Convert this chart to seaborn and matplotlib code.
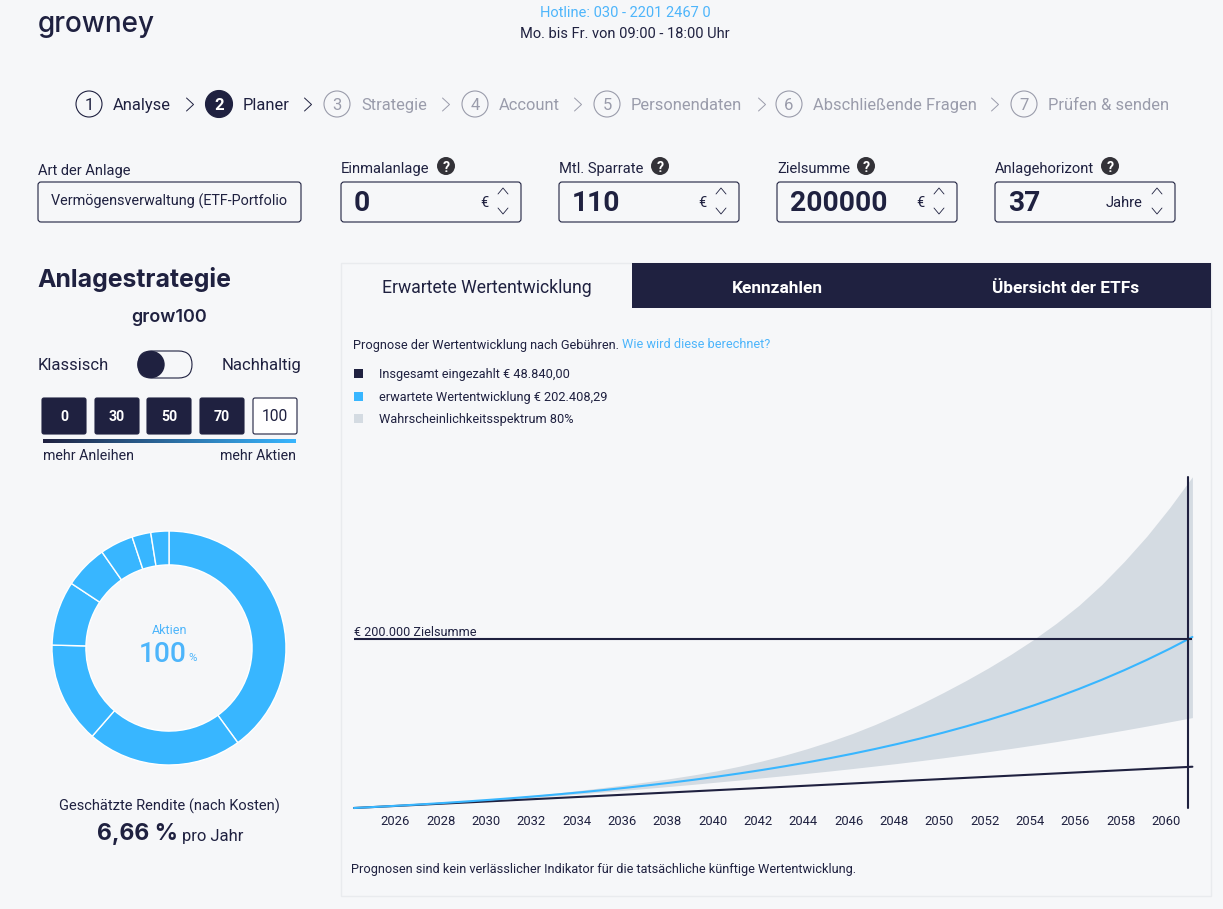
import matplotlib
matplotlib.use("Agg")
import matplotlib.pyplot as plt
import numpy as np
import seaborn as sns
from matplotlib.colors import LinearSegmentedColormap
from matplotlib.patches import Circle, FancyBboxPatch, Rectangle

W, H = 1223, 909
NAVY = "#1f2140"
BLUE = "#38b6ff"
LINK = "#4db5fb"
BAND = "#d4dbe2"
BG = "#f6f7f9"
GRAY = "#9a9cab"
EDGE = "#e9ebee"

# Werte
years = [2024.17, 2025.17, 2026.17, 2027.17, 2028.17, 2029.17, 2030.17, 2031.17,
         2032.17, 2033.17, 2034.17, 2035.17, 2036.17, 2037.17, 2038.17, 2039.17,
         2040.17, 2041.17, 2042.17, 2043.17, 2044.17, 2045.17, 2046.17, 2047.17,
         2048.17, 2049.17, 2050.17, 2051.17, 2052.17, 2053.17, 2054.17, 2055.17,
         2056.17, 2057.17, 2058.17, 2059.17, 2060.17, 2061.17]
expected = [0, 1366, 2821, 4378, 6037, 7805, 9692, 11703, 13847, 16137, 18577, 21180,
            23957, 26918, 30078, 33449, 37041, 40876, 44965, 49325, 53976, 58939,
            64231, 69875, 75895, 82314, 89163, 96469, 104259, 112570, 121434, 130888,
            140972, 151727, 163198, 175433, 188484, 202408]
upper = [0, 1400, 2900, 4500, 6300, 8200, 10300, 12600, 15100, 17900, 21000, 24200,
         27600, 31200, 35000, 39200, 43900, 49400, 55600, 62500, 70200, 78800, 88200,
         98800, 110500, 123000, 136500, 150700, 165800, 182000, 199500, 218700,
         240000, 264500, 292000, 322000, 355500, 392000]
lower = [0, 1300, 2700, 4100, 5600, 7200, 8900, 10700, 12600, 14600, 16700, 18900,
         21100, 23400, 25700, 28100, 30600, 33100, 35700, 38300, 41000, 43800, 46700,
         49700, 52800, 56000, 59400, 63000, 66700, 70500, 74500, 78600, 83000, 87600,
         92200, 97000, 102000, 107000]
deposit_years = [2024.17, 2061.17]
deposits = [0, 48840]
target = 200000
tick_years = [2026, 2028, 2030, 2032, 2034, 2036, 2038, 2040, 2042, 2044, 2046, 2048,
              2050, 2052, 2054, 2056, 2058, 2060]
donut_shares = [40, 21.4, 14, 8.9, 6, 4.6, 2.6, 2.5]

steps = ["Analyse", "Planer", "Strategie", "Account", "Personendaten",
         "Abschließende Fragen", "Prüfen & senden"]
step_x = [89, 219, 337, 475, 607, 789, 1024]
chevron_x = [190, 308, 446, 578, 762, 995]

sns.set_theme(style="white")
plt.rcParams["font.family"] = ["Roboto", "DejaVu Sans"]

fig = plt.figure(figsize=(W / 100, H / 100), dpi=100, facecolor=BG)


def px_axes(x0, y0, x1, y1):
    return fig.add_axes([x0 / W, 1 - y1 / H, (x1 - x0) / W, (y1 - y0) / H])


ui = px_axes(0, 0, W, H)
ui.set_xlim(0, W)
ui.set_ylim(H, 0)
ui.axis("off")


def txt(x, y, s, size, color=NAVY, ha="left", weight="normal", family=None, **kw):
    # size in Pixel, y ist die Grundlinie
    return ui.text(x, y, s, fontsize=size * 0.75, color=color, ha=ha, va="baseline",
                   fontweight=weight, family=family or ["Roboto", "DejaVu Sans"], **kw)


def box(x0, y0, x1, y1, fc="none", ec=NAVY, lw=0.8, r=3):
    ui.add_patch(FancyBboxPatch((x0 + r, y0 + r), x1 - x0 - 2 * r, y1 - y0 - 2 * r,
                                boxstyle=f"round,pad={r},rounding_size={r}",
                                fc=fc, ec=ec, lw=lw))


def chevron(x, y, w, h, direction, color=NAVY, lw=0.7):
    if direction == "right":
        ui.plot([x - h, x + h, x - h], [y - w, y, y + w], color=color, lw=lw)
    elif direction == "up":
        ui.plot([x - w, x, x + w], [y + h, y - h, y + h], color=color, lw=lw)
    else:
        ui.plot([x - w, x, x + w], [y - h, y + h, y - h], color=color, lw=lw)


# Kopfzeile
txt(38, 32, "growney", 26.8, weight="medium", family="Inter")
txt(625, 17, "Hotline: 030 - 2201 2467 0", 14, color=LINK, ha="center")
txt(625, 38, "Mo. bis Fr. von 09:00 - 18:00 Uhr", 14, ha="center")

# Schritte
for i, (label, cx) in enumerate(zip(steps, step_x)):
    col = NAVY if i < 2 else GRAY
    if i == 1:
        ui.add_patch(Circle((cx, 104), 13.5, fc=NAVY, ec=NAVY, lw=0.8))
    else:
        ui.add_patch(Circle((cx, 104), 13, fc="none", ec=col, lw=0.8))
    txt(cx, 110, str(i + 1), 16, color="white" if i == 1 else col, ha="center",
        weight="bold" if i == 1 else "normal")
    txt(cx + 24, 110, label, 15.9, color=col)
for i, cx in enumerate(chevron_x):
    chevron(cx, 104.5, 6.5, 3.5, "right", color=NAVY if i < 2 else GRAY)

# Eingabefelder
txt(38, 175, "Art der Anlage", 14)
box(38, 182, 301, 222)
txt(51, 206, "Vermögensverwaltung (ETF-Portfolio", 13.8)

fields = [(341, "Einmalanlage", 446, "0", "€"), (559, "Mtl. Sparrate", 660, "110", "€"),
          (777, "Zielsumme", 866, "200000", "€"), (995, "Anlagehorizont", 1110, "37", "Jahre")]
for x0, label, qx, value, unit in fields:
    txt(x0, 173, label, 14.2)
    ui.add_patch(Circle((qx, 166), 9, fc="#333238", ec="none"))
    txt(qx, 171.5, "?", 13.5, color="white", ha="center", weight="bold")
    box(x0, 182, x0 + 180, 222)
    txt(x0 + 13, 211, value, 27, weight="semibold")
    txt(x0 + 148 if unit == "€" else x0 + 147, 207, unit, 14, ha="right")
    chevron(x0 + 162, 191, 5, 3, "up", lw=0.6)
    chevron(x0 + 162, 211, 5, 3, "down", lw=0.6)

# linke Spalte
txt(37, 287, "Anlagestrategie", 23.8, weight="bold", family="Inter")
txt(169, 322, "grow100", 17.3, ha="center", weight="semibold", family="Inter")
txt(38, 370, "Klassisch", 16)
txt(301, 370, "Nachhaltig", 16, ha="right")
box(138, 351, 192, 378, ec=NAVY, r=13.4)
ui.add_patch(Circle((151, 364.5), 13, fc=NAVY, ec=NAVY))

for x0, x1, label in [(42, 86, "0"), (95, 139, "30"), (147, 191, "50"), (200, 244, "70")]:
    box(x0, 398, x1, 434, fc=NAVY, ec=NAVY, r=2)
    txt((x0 + x1) / 2, 421, label, 13.5, color="white", ha="center", weight="bold")
box(253, 398, 297, 434, fc="white", ec=NAVY, r=2)
txt(275, 421, "100", 15, ha="center")

grad = LinearSegmentedColormap.from_list("grad", [NAVY, BLUE])
ui.imshow(np.linspace(0, 1, 256).reshape(1, -1), cmap=grad, aspect="auto",
          extent=(43, 296, 443, 439))
ui.set_xlim(0, W)
ui.set_ylim(H, 0)
txt(43, 460, "mehr Anleihen", 13.6)
txt(296, 460, "mehr Aktien", 13.6, ha="right")

# Donut
ax_pie = px_axes(52, 531, 286, 765)
ax_pie.pie(donut_shares, colors=[BLUE] * len(donut_shares), startangle=90, counterclock=False,
           radius=1, wedgeprops=dict(width=0.29, edgecolor="white", linewidth=1))
ax_pie.set_xlim(-1, 1)
ax_pie.set_ylim(-1, 1)
ax_pie.patch.set_alpha(0)

txt(170, 634, "Aktien", 12, color=LINK, ha="center")
txt(163, 662, "100", 27, color=LINK, ha="center", weight="medium")
txt(193, 661, "%", 11, color=LINK, ha="center")
txt(169, 811, "Geschätzte Rendite (nach Kosten)", 14, ha="center")
txt(97, 840, "6,66 %", 22, weight="bold", family="Inter")
txt(182, 841, "pro Jahr", 16)

# Panel rechts
ui.add_patch(Rectangle((341, 263), 870, 633, fc="none", ec=EDGE, lw=1))
ui.add_patch(Rectangle((632, 263), 579, 45, fc=NAVY, ec="none"))
txt(487, 293, "Erwartete Wertentwicklung", 16.9, ha="center")
txt(777, 293, "Kennzahlen", 16.5, color="white", ha="center", weight="bold")
txt(1066, 293, "Übersicht der ETFs", 16.6, color="white", ha="center", weight="bold")

txt(353, 348.5, "Prognose der Wertentwicklung nach Gebühren.", 12.2)
txt(622, 348.5, "Wie wird diese berechnet?", 12.2, color=LINK)
legend_rows = [(373, NAVY, "Insgesamt eingezahlt € 48.840,00", 378),
               (396, BLUE, "erwartete Wertentwicklung € 202.408,29", 401),
               (418.5, BAND, "Wahrscheinlichkeitsspektrum 80%", 423)]
for cy, col, label, base in legend_rows:
    ui.add_patch(Rectangle((354, cy - 4.5), 9, 9, fc=col, ec="none"))
    txt(379, base, label, 12.2)
txt(354, 636, "€ 200.000 Zielsumme", 12.1)
txt(351, 873, "Prognosen sind kein verlässlicher Indikator für die tatsächliche künftige Wertentwicklung.", 12.2)

# Prognose-Diagramm
ax = px_axes(354, 470, 1192.4, 808)
ax.patch.set_alpha(0)
ax.fill_between(years, lower, upper, color=BAND, lw=0)
sns.lineplot(x=deposit_years, y=deposits, color=NAVY, lw=1.5, ax=ax, clip_on=False)
sns.lineplot(x=years, y=expected, color=BLUE, lw=1.5, ax=ax, clip_on=False)
ax.axhline(target, color=NAVY, lw=1.5)
ax.plot([2060.98, 2060.98], [0, 392000], color=NAVY, lw=1.5, clip_on=False)
ax.set_xlim(2024.17, 2061.17)
ax.set_ylim(0, 400000)
ax.set_xticks(tick_years)
ax.set_xticklabels([str(y) for y in tick_years], fontsize=9.4, color=NAVY)
ax.set_yticks([])
ax.tick_params(axis="x", length=0, pad=5)
ax.set_xlabel("")
ax.set_ylabel("")
sns.despine(ax=ax, left=True, bottom=True)

fig.savefig("out.png", dpi=100, facecolor=BG)
